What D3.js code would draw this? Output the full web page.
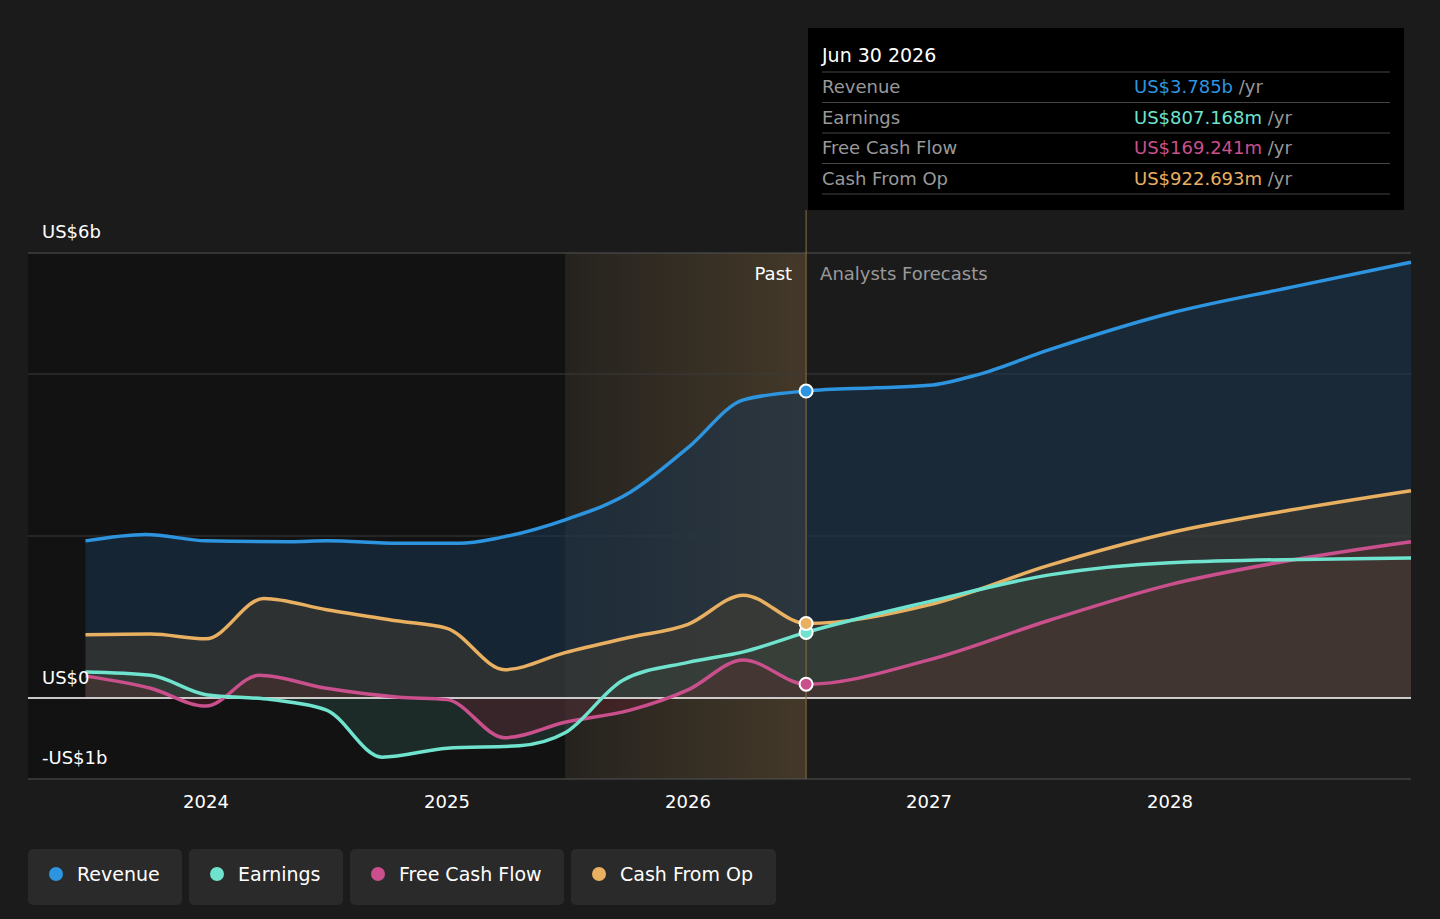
<!DOCTYPE html><html><head><meta charset="utf-8">
<script src="https://cdn.jsdelivr.net/npm/d3@7"></script>
<style>body{margin:0;background:#1b1b1b;font-family:"DejaVu Sans",sans-serif}</style></head><body>
<svg id="c" width="1440" height="919"></svg>
<script>
const revenue=[[2023.5,1.94],[2023.75,2.02],[2024,1.94],[2024.35,1.93],[2024.5,1.94],[2024.8,1.91],[2025.05,1.91],[2025.22,1.98],[2025.49,2.2],[2025.76,2.54],[2026,3.09],[2026.23,3.68],[2026.49,3.79],[2026.78,3.83],[2027,3.86],[2027.2,3.99],[2027.5,4.3],[2028,4.75],[2028.5,5.07],[2029,5.38]];
const earnings=[[2023.5,0.32],[2023.77,0.28],[2024,0.04],[2024.27,-0.02],[2024.5,-0.15],[2024.73,-0.73],[2025,-0.62],[2025.3,-0.59],[2025.49,-0.43],[2025.73,0.22],[2026,0.44],[2026.23,0.57],[2026.49,0.81],[2027,1.19],[2027.5,1.52],[2028,1.67],[2029,1.73]];
const fcf=[[2023.5,0.27],[2023.77,0.12],[2024,-0.1],[2024.22,0.28],[2024.5,0.12],[2024.8,0.01],[2025,-0.02],[2025.24,-0.49],[2025.49,-0.3],[2025.76,-0.15],[2026,0.1],[2026.23,0.47],[2026.49,0.17],[2027,0.47],[2027.5,0.96],[2028,1.4],[2028.5,1.7],[2029,1.93]];
const cfo=[[2023.5,0.78],[2023.77,0.79],[2024,0.73],[2024.24,1.23],[2024.5,1.09],[2024.8,0.95],[2025,0.86],[2025.24,0.35],[2025.49,0.56],[2025.76,0.75],[2026,0.91],[2026.23,1.27],[2026.49,0.92],[2027,1.15],[2027.5,1.64],[2028,2.04],[2028.5,2.32],[2029,2.56]];
const yearTicks=[2024,2025,2026,2027,2028];
const series=[{n:"Revenue",d:revenue,c:"#2d95e0",v:"US$3.785b"},{n:"Earnings",d:earnings,c:"#6fe3cd",v:"US$807.168m"},{n:"Free Cash Flow",d:fcf,c:"#c9508c",v:"US$169.241m"},{n:"Cash From Op",d:cfo,c:"#e8b060",v:"US$922.693m"}];
const svg=d3.select("#c");
const x=d3.scaleLinear().domain([2023,2029]).range([206-241,206+5*241]);
const y=d3.scaleLinear().domain([-1,5.494]).range([779,253]);
const L=28,R=1411,now=2026.49,bandStart=2025.49;
svg.append("rect").attr("x",L).attr("y",253).attr("width",x(bandStart)-L).attr("height",526).attr("fill","#121212");
const defs=svg.append("defs");
const bg=defs.append("linearGradient").attr("id","band");
bg.append("stop").attr("offset","0").attr("stop-color","#e8b060").attr("stop-opacity",0.05);
bg.append("stop").attr("offset","1").attr("stop-color","#e8b060").attr("stop-opacity",0.2);
svg.append("rect").attr("x",x(bandStart)).attr("y",253).attr("width",x(now)-x(bandStart)).attr("height",526).attr("fill","url(#band)");
[0,2,4].forEach(v=>svg.append("line").attr("x1",L).attr("x2",R).attr("y1",y(v)).attr("y2",y(v)).attr("stroke","#3a3a3a"));
svg.append("line").attr("x1",L).attr("x2",R).attr("y1",253).attr("y2",253).attr("stroke","#555");
svg.append("line").attr("x1",L).attr("x2",R).attr("y1",779).attr("y2",779).attr("stroke","#555");
series.forEach((s,i)=>{const g=defs.append("linearGradient").attr("id","g"+i).attr("x1",0).attr("x2",0).attr("y1",0).attr("y2",1);
 g.append("stop").attr("offset","0").attr("stop-color",s.c).attr("stop-opacity",0.25);
 g.append("stop").attr("offset","1").attr("stop-color",s.c).attr("stop-opacity",0.08);});
const area=d3.area().x(d=>x(d[0])).y0(y(0)).y1(d=>y(d[1])).curve(d3.curveMonotoneX);
const line=d3.line().x(d=>x(d[0])).y(d=>y(d[1])).curve(d3.curveMonotoneX);
const afill=["#1a3550","#2a4a44","#5a1e2a","#4a4030"];
series.forEach((s,i)=>svg.append("path").attr("d",area(s.d)).attr("fill",afill[i]).attr("fill-opacity",i==0?0.55:0.45));
svg.append("line").attr("x1",L).attr("x2",R).attr("y1",y(0)).attr("y2",y(0)).attr("stroke","#fff").attr("stroke-width",1.5);
series.slice().reverse().forEach(s=>svg.append("path").attr("d",line(s.d)).attr("fill","none").attr("stroke",s.c).attr("stroke-width",3.5));
svg.append("line").attr("x1",x(now)).attr("x2",x(now)).attr("y1",210).attr("y2",779).attr("stroke","#8a7040");
series.forEach(s=>{const p=s.d.find(d=>d[0]===now);svg.append("circle").attr("cx",x(now)).attr("cy",y(p[1])).attr("r",6.5).attr("fill",s.c).attr("stroke","#fff").attr("stroke-width",2);});
const t=(X,Y,txt,o)=>svg.append("text").attr("x",X).attr("y",Y).text(txt).attr("fill",o.f||"#fff").attr("font-size",o.s||18).attr("text-anchor",o.a||"start");
t(42,238,"US$6b",{});t(42,684,"US$0",{});t(42,764,"-US$1b",{});
yearTicks.forEach(v=>t(x(v),808,String(v),{a:"middle"}));
t(x(now)-14,280,"Past",{a:"end"});t(x(now)+14,280,"Analysts Forecasts",{f:"#999"});
svg.append("rect").attr("x",808).attr("y",28).attr("width",596).attr("height",182).attr("fill","#000");
t(822,62,"Jun 30 2026",{s:19});
series.forEach((s,i)=>{const yy=72+i*30.5;svg.append("line").attr("x1",822).attr("x2",1390).attr("y1",yy).attr("y2",yy).attr("stroke","#444");
 t(822,yy+21,s.n,{f:"#999"});const tx=t(1134,yy+21,"",{});tx.append("tspan").attr("fill",s.c).text(s.v);tx.append("tspan").attr("fill","#999").text(" /yr");});
svg.append("line").attr("x1",822).attr("x2",1390).attr("y1",194).attr("y2",194).attr("stroke","#444");
const lw=[154,154,214,205];let lx=28;
series.forEach((s,i)=>{svg.append("rect").attr("x",lx).attr("y",849).attr("width",lw[i]).attr("height",56).attr("rx",5).attr("fill","#2a2a2a");
 svg.append("circle").attr("cx",lx+28).attr("cy",874).attr("r",7).attr("fill",s.c);
 t(lx+49,881,s.n,{s:19});lx+=lw[i]+7;});
</script></body></html>
